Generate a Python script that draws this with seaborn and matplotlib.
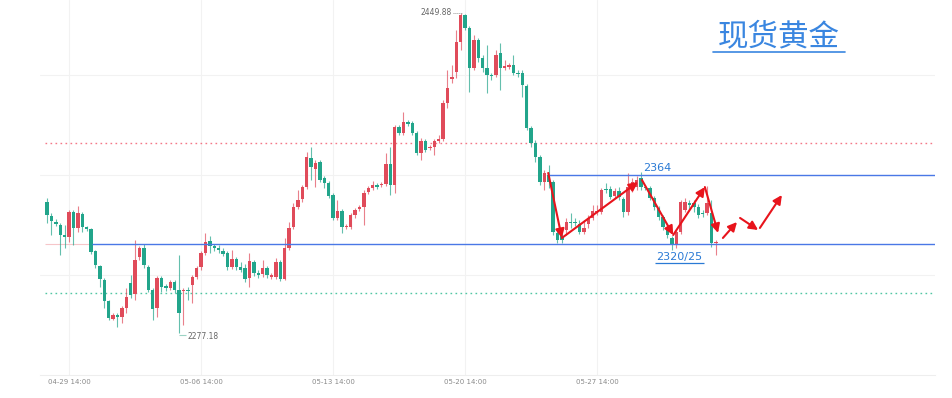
import matplotlib.pyplot as plt
import seaborn as sns
from matplotlib.lines import Line2D

# 4h candles, spot gold (index = candle position)
opens = [
    2347.9, 2340.4, 2337.1, 2335.5, 2330.1, 2329.0, 2342.5, 2333.9, 2341.4, 2334.4,
    2333.3, 2321.5, 2313.4, 2305.8, 2294.5, 2284.7, 2286.9, 2285.8, 2290.7, 2304.2,
    2298.2, 2318.2, 2323.1, 2312.8, 2300.4, 2290.7, 2306.9, 2302.6, 2301.5, 2304.7,
    2300.4, 2299.9, 2300.4, 2303.1, 2307.4, 2312.8, 2320.4, 2326.9, 2324.2, 2323.1,
    2321.5, 2320.4, 2312.8, 2317.1, 2312.8, 2312.3, 2306.9, 2315.5, 2309.6, 2309.0,
    2312.3, 2307.4, 2307.4, 2315.5, 2306.3, 2323.1, 2334.4, 2345.2, 2349.5, 2356.0,
    2371.7, 2365.7, 2369.5, 2360.9, 2358.2, 2351.7, 2339.3, 2343.1, 2334.4, 2334.4,
    2340.9, 2344.1, 2345.2, 2353.3, 2355.5, 2357.1, 2357.1, 2357.6, 2368.4, 2357.1,
    2388.4, 2385.2, 2391.1, 2390.6, 2385.2, 2374.4, 2380.9, 2377.1, 2377.6, 2380.9,
    2381.9, 2401.4, 2414.3, 2418.1, 2434.3, 2449.0, 2441.9, 2420.3, 2435.4, 2425.7,
    2420.3, 2416.5, 2416.5, 2428.4, 2420.3, 2420.8, 2421.9, 2417.6, 2417.6, 2410.6,
    2387.9, 2379.8, 2372.2, 2358.7, 2362.5, 2358.7, 2331.2, 2329.6, 2332.8, 2337.1,
    2337.1, 2336.0, 2331.7, 2336.0, 2339.3, 2342.5, 2342.5, 2354.9, 2354.9, 2351.2,
    2353.9, 2349.5, 2342.5, 2354.4, 2356.0, 2360.9, 2356.0, 2355.5, 2350.1, 2344.7,
    2339.8, 2334.4, 2328.5, 2324.7, 2331.7, 2343.6, 2347.4, 2347.4, 2345.2, 2342.0,
    2342.0, 2342.0, 2325.8,
]
highs = [
    2350.1, 2342.0, 2338.7, 2336.6, 2335.5, 2343.6, 2343.6, 2345.8, 2342.5, 2335.0,
    2333.9, 2322.0, 2313.9, 2306.9, 2295.0, 2288.0, 2288.0, 2291.8, 2301.5, 2308.5,
    2327.4, 2324.2, 2325.2, 2313.9, 2301.5, 2308.0, 2308.0, 2303.6, 2305.8, 2305.8,
    2319.3, 2301.5, 2302.0, 2308.5, 2313.4, 2321.5, 2331.2, 2329.6, 2325.2, 2324.7,
    2323.1, 2321.5, 2322.0, 2318.2, 2315.5, 2314.4, 2320.4, 2316.6, 2311.2, 2316.6,
    2313.4, 2309.6, 2317.7, 2316.6, 2328.5, 2337.1, 2347.4, 2354.4, 2357.1, 2374.9,
    2377.6, 2370.6, 2370.6, 2362.0, 2359.3, 2352.8, 2349.0, 2344.1, 2336.0, 2342.0,
    2344.7, 2346.3, 2354.4, 2356.6, 2359.3, 2358.2, 2358.7, 2374.4, 2377.6, 2389.5,
    2389.5, 2396.5, 2392.2, 2391.7, 2386.3, 2382.5, 2381.9, 2378.7, 2381.9, 2384.1,
    2403.0, 2419.2, 2421.9, 2440.8, 2449.88, 2449.5, 2443.0, 2438.1, 2436.5, 2427.3,
    2432.7, 2417.6, 2430.0, 2433.8, 2424.6, 2423.0, 2427.3, 2419.2, 2419.2, 2411.6,
    2389.0, 2381.4, 2373.3, 2365.2, 2367.9, 2359.8, 2332.3, 2331.2, 2339.3, 2342.0,
    2339.3, 2338.2, 2338.2, 2340.9, 2346.3, 2346.3, 2355.5, 2358.2, 2356.6, 2355.5,
    2356.0, 2350.6, 2363.6, 2360.9, 2362.0, 2364.1, 2357.1, 2356.6, 2351.2, 2345.8,
    2340.9, 2335.5, 2329.6, 2332.8, 2349.0, 2350.1, 2349.0, 2349.0, 2346.8, 2343.6,
    2356.6, 2349.0, 2327.4,
]
lows = [
    2336.6, 2330.1, 2335.0, 2319.3, 2323.1, 2326.3, 2324.7, 2331.7, 2331.7, 2332.3,
    2319.8, 2312.3, 2302.0, 2290.7, 2284.2, 2284.2, 2280.4, 2282.6, 2288.0, 2296.1,
    2295.0, 2316.6, 2312.3, 2299.3, 2284.2, 2285.8, 2299.3, 2299.9, 2300.4, 2298.8,
    2277.18, 2281.5, 2295.0, 2293.4, 2306.3, 2311.2, 2319.3, 2320.4, 2321.5, 2320.4,
    2318.8, 2311.2, 2311.7, 2311.2, 2310.1, 2304.7, 2302.0, 2308.0, 2306.9, 2307.4,
    2306.9, 2306.3, 2306.3, 2305.3, 2305.8, 2322.0, 2333.3, 2344.1, 2347.9, 2354.9,
    2359.8, 2356.0, 2358.7, 2355.5, 2350.1, 2338.2, 2338.2, 2331.2, 2333.3, 2333.3,
    2339.3, 2343.1, 2335.5, 2352.2, 2354.4, 2354.9, 2356.0, 2356.6, 2351.7, 2352.8,
    2384.1, 2384.1, 2389.0, 2384.1, 2373.3, 2370.6, 2374.9, 2376.0, 2373.3, 2379.8,
    2380.9, 2398.7, 2412.2, 2414.9, 2430.0, 2440.8, 2407.3, 2419.2, 2423.5, 2418.1,
    2406.8, 2413.8, 2415.4, 2408.4, 2419.2, 2419.7, 2416.5, 2415.4, 2404.6, 2386.8,
    2377.6, 2369.5, 2357.1, 2354.4, 2355.5, 2330.1, 2325.8, 2325.8, 2330.1, 2333.9,
    2335.0, 2330.6, 2330.6, 2333.9, 2338.2, 2340.9, 2341.4, 2352.8, 2349.5, 2350.1,
    2349.0, 2339.8, 2340.9, 2353.3, 2354.4, 2354.4, 2354.4, 2349.0, 2343.6, 2338.2,
    2332.8, 2328.5, 2322.0, 2323.1, 2330.6, 2342.5, 2343.6, 2342.5, 2339.3, 2339.8,
    2340.9, 2323.6, 2319.3,
]
closes = [
    2340.9, 2337.7, 2336.0, 2330.1, 2329.0, 2342.5, 2333.9, 2342.0, 2334.4, 2333.3,
    2320.9, 2313.9, 2306.3, 2294.5, 2285.3, 2286.9, 2285.8, 2290.7, 2296.6, 2297.7,
    2316.6, 2323.1, 2313.9, 2300.4, 2290.1, 2306.9, 2302.0, 2301.5, 2304.7, 2300.4,
    2288.0, 2300.4, 2299.9, 2307.4, 2312.3, 2320.4, 2326.3, 2324.2, 2323.1, 2322.0,
    2319.8, 2312.8, 2317.1, 2312.8, 2311.2, 2306.3, 2316.1, 2309.6, 2308.5, 2312.3,
    2308.5, 2308.5, 2315.5, 2306.3, 2323.1, 2333.9, 2345.2, 2349.0, 2356.0, 2372.2,
    2366.8, 2369.0, 2359.8, 2358.2, 2351.2, 2339.3, 2343.1, 2334.4, 2335.0, 2340.9,
    2343.6, 2345.2, 2352.8, 2355.5, 2357.1, 2356.0, 2357.6, 2368.4, 2357.1, 2388.4,
    2385.2, 2391.1, 2390.0, 2385.2, 2374.4, 2380.9, 2376.0, 2377.6, 2380.9, 2381.9,
    2401.4, 2409.5, 2415.4, 2434.3, 2449.0, 2441.9, 2420.3, 2435.4, 2425.7, 2420.3,
    2416.5, 2416.0, 2427.3, 2420.3, 2421.4, 2421.9, 2417.6, 2417.0, 2411.1, 2387.9,
    2379.8, 2372.2, 2358.7, 2363.6, 2358.7, 2331.7, 2327.4, 2327.4, 2337.1, 2336.6,
    2336.6, 2331.7, 2333.9, 2339.3, 2343.1, 2343.1, 2354.4, 2354.4, 2350.6, 2353.9,
    2350.6, 2342.5, 2356.0, 2358.7, 2359.8, 2356.0, 2355.5, 2350.1, 2345.2, 2339.8,
    2334.4, 2330.1, 2324.7, 2331.7, 2347.9, 2347.9, 2346.3, 2345.2, 2340.9, 2341.4,
    2347.4, 2325.8, 2326.3,
]

tick_pos = [5, 35, 65, 95, 125]
tick_labels = ["04-29 14:00", "05-06 14:00", "05-13 14:00", "05-20 14:00", "05-27 14:00"]
grid_prices = [2416.5, 2362.5, 2308.5]

resist = 2362.5      # 2364
support = 2325.5     # 2320/25
pink_level = 2379.8
green_level = 2298.9

# projected path (start index, start price, end index, end price)
arrow_x0 = [113.9, 117.0, 135.2, 142.3, 149.5, 153.6, 157.5, 162.0]
arrow_y0 = [2363.6, 2328.5, 2359.8, 2330.1, 2356.0, 2328.5, 2339.3, 2333.9]
arrow_x1 = [117.0, 134.3, 142.3, 149.5, 152.5, 156.8, 161.6, 167.0]
arrow_y1 = [2328.5, 2358.7, 2330.1, 2356.0, 2331.2, 2337.1, 2332.8, 2351.7]

RED = "#e04b5a"
GREEN = "#22a58b"
BLUE = "#4a78e6"

sns.set_theme(style="white")
plt.rcParams["font.family"] = ["DejaVu Sans", "Noto Sans CJK SC"]

fig = plt.figure(figsize=(9.53, 3.98), dpi=100)
ax = fig.add_axes([40 / 953, 23 / 398, 895 / 953, 375 / 398])

x_end = 201.8
ax.set_xlim(-1.6, x_end)
ax.set_ylim(2254.5, 2457)

idx = list(range(len(opens)))
cols = [RED if c >= o else GREEN for o, c in zip(opens, closes)]
bottoms = [min(o, c) for o, c in zip(opens, closes)]
heights = [max(abs(c - o), 0.6) for o, c in zip(opens, closes)]

ax.vlines(idx, lows, highs, colors=cols, linewidth=0.8, alpha=0.7, zorder=2)
ax.bar(idx, heights, bottom=bottoms, width=0.78, color=cols, linewidth=0, zorder=3)

# levels
pink_line = Line2D([-0.5, x_end], [pink_level, pink_level], color="#f2566a",
                   linestyle=(0, (1.2, 2.4)), linewidth=1.0, alpha=0.8, zorder=1)
green_line = Line2D([-0.5, x_end], [green_level, green_level], color="#25b88c",
                    linestyle=(0, (1.2, 2.4)), linewidth=1.0, alpha=0.8, zorder=1)
ax.add_line(pink_line)
ax.add_line(green_line)
ax.hlines(support, -0.5, 10.2, colors="#f6c6c9", linewidth=0.8, zorder=1)
ax.hlines(support, 10.2, x_end, colors=BLUE, linewidth=1.0, zorder=4)
ax.hlines(resist, 113.9, x_end, colors=BLUE, linewidth=1.0, zorder=4)

for x0, y0, x1, y1 in zip(arrow_x0, arrow_y0, arrow_x1, arrow_y1):
    ax.annotate("", xy=(x1, y1), xytext=(x0, y0),
                arrowprops=dict(arrowstyle="-|>", color="#e8141c", lw=1.5,
                                mutation_scale=13, shrinkA=0, shrinkB=0),
                zorder=6)

# labels on the chart
ax.text(135.5, 2363.4, "2364", color="#2a7ad5", fontsize=8, ha="left", va="bottom", zorder=7)
ax.text(138.4, 2321.0, "2320/25", color="#2a7ad5", fontsize=8, ha="left", va="top", zorder=7)
ax.hlines(2315.0, 138.2, 149.3, colors="#2a7ad5", linewidth=0.9)

ax.text(92.0, 2450.2, "2449.88", color="#666666", fontsize=5.5, ha="right", va="center")
ax.hlines(2450.2, 92.3, 94.4, colors="#999999", linestyles=(0, (1, 1)), linewidth=0.7)
ax.text(31.9, 2275.2, "2277.18", color="#666666", fontsize=5.5, ha="left", va="center")
ax.hlines(2276.1, 30.0, 31.6, colors="#9bd3c4", linewidth=0.8)

fig.text(779 / 953, 1 - 37 / 398, "现货黄金", color="#3a86e0", fontsize=22,
         ha="center", va="center", family=["Noto Sans CJK SC", "DejaVu Sans"])
fig.add_artist(Line2D([713 / 953, 845 / 953], [1 - 52 / 398, 1 - 52 / 398],
                      color="#3a86e0", linewidth=1.2))

# axes styling
ax.set_xticks(tick_pos, tick_labels)
ax.set_yticks(grid_prices)
ax.set_yticklabels([])
ax.tick_params(axis="x", length=0, labelsize=5, labelcolor="#8a8a8a", pad=3)
ax.tick_params(axis="y", length=0)
ax.grid(True, color="#f2f2f2", linewidth=0.8)
ax.set_axisbelow(True)
for side in ["top", "left", "right"]:
    ax.spines[side].set_visible(False)
ax.spines["bottom"].set_color("#eeeeee")
ax.spines["bottom"].set_linewidth(0.8)

fig.savefig("out.png", dpi=100, facecolor="white")
